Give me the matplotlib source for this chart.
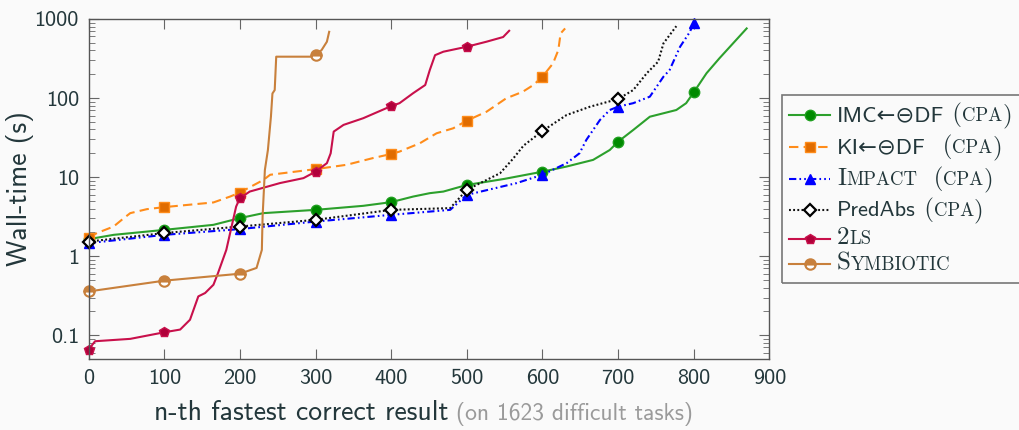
import matplotlib
matplotlib.use("Agg")
import matplotlib.pyplot as plt
from matplotlib.lines import Line2D
from matplotlib.patches import Rectangle
from matplotlib.ticker import LogLocator, NullFormatter

# 字体设置
SANS = ["cmss10", "DejaVu Sans"]
SERIF = ["cmr10", "DejaVu Serif"]
plt.rcParams["font.family"] = SANS
plt.rcParams["axes.unicode_minus"] = False

TEXT = "#23373b"
BG = "#fafafa"
W, H = 1019, 430

# 数据 (n-th fastest result, wall time in s)
imc_x = [0, 33, 100, 165, 200, 231, 300, 363, 400, 429, 451, 469, 500, 550, 600,
         632, 667, 689, 700, 720, 742, 777, 790, 800, 817, 834, 852, 870]
imc_y = [1.64, 1.86, 2.15, 2.49, 3.03, 3.5, 3.85, 4.33, 4.82, 5.67, 6.26, 6.56, 7.95, 9.5, 11.7,
         13.6, 16.5, 22, 28, 39.4, 58, 70.5, 86, 118, 206, 318, 491, 758]

ki_x = [0, 11, 33, 46, 55, 77, 100, 165, 187, 200, 231, 240, 300, 341, 376, 400,
        411, 438, 460, 482, 500, 526, 552, 574, 588, 600, 614, 621, 624, 630]
ki_y = [1.72, 1.96, 2.37, 3.0, 3.5, 3.93, 4.17, 4.78, 5.67, 6.38, 9.2, 10.7, 12.6, 14.3, 17.4, 19.6,
        21, 26.8, 35.8, 41.4, 51.7, 67, 99, 120, 146, 186, 274, 404, 656, 758]

impact_x = [0, 100, 200, 300, 400, 478, 500, 566, 600, 632, 649, 658, 676, 689,
            700, 720, 742, 760, 768, 782, 795, 800]
impact_y = [1.46, 1.86, 2.2, 2.74, 3.33, 3.85, 5.96, 8.4, 10.7, 15, 20, 29.5, 52.7, 70.5,
            77.7, 86, 104, 186, 225, 445, 687, 894]

predabs_x = [0, 100, 200, 300, 400, 478, 500, 544, 561, 575, 600, 632, 663, 700,
             720, 738, 753, 760, 777]
predabs_y = [1.53, 1.96, 2.37, 2.88, 3.85, 4.05, 6.9, 11.2, 17, 25, 38.3, 61, 77.7, 97,
             126, 206, 288, 491, 810]

twols_x = [0, 8.5, 55, 100, 121, 134, 145, 154, 165, 171, 182, 189, 195, 200, 213, 253,
           284, 300, 315, 320, 324, 337, 363, 400, 411, 429, 445, 451, 458, 469, 500,
           526, 548, 556]
twols_y = [0.066, 0.084, 0.090, 0.109, 0.118, 0.157, 0.31, 0.342, 0.435, 0.61, 1.2, 2.37, 4.24,
           5.41, 6.56, 8.4, 9.7, 11.7, 15, 20, 37.6, 45.7, 55.5, 79, 86, 115, 146, 225, 348,
           385, 445, 515, 590, 708]

symb_x = [0, 100, 200, 222, 229, 230, 233, 237, 241, 243, 246, 248, 297, 300, 308, 315, 318]
symb_y = [0.358, 0.49, 0.60, 0.71, 1.2, 3.2, 12.3, 22, 58, 114, 126, 333, 333, 349, 404, 515, 687]

x_ticks = list(range(0, 901, 100))
y_ticks = [0.1, 1, 10, 100, 1000]
y_tick_labels = ["0.1", "1", "10", "100", "1000"]

# 图例文字 (text, fontsize, family) — small caps imitated by smaller capitals
legend_labels = [
    [("IMC\u2190\u2296DF", 16.2, SANS), (" (", 18, SERIF), ("CPA", 13.5, SERIF), (")", 18, SERIF)],
    [("KI\u2190\u2296DF", 16.2, SANS), ("  (", 18, SERIF), ("CPA", 13.5, SERIF), (")", 18, SERIF)],
    [("I", 18, SERIF), ("MPACT", 13.5, SERIF), ("  (", 18, SERIF), ("CPA", 13.5, SERIF), (")", 18, SERIF)],
    [("PredAbs", 16.2, SANS), (" (", 18, SERIF), ("CPA", 13.5, SERIF), (")", 18, SERIF)],
    [("2", 18, SERIF), ("LS", 13.5, SERIF)],
    [("S", 18, SERIF), ("YMBIOTIC", 13.5, SERIF)],
]

series = [
    (imc_x, imc_y, dict(color="#2ca02c", ls="-", marker="o", mfc="#008a00", mec="#1f9f1f")),
    (ki_x, ki_y, dict(color="#ff8c1a", dashes=(4.5, 2.5), marker="s", mfc="#e06c00", mec="#ff8c1a")),
    (impact_x, impact_y, dict(color="#0000ff", dashes=(3.5, 1.5, 0.8, 1.5, 0.8, 1.5), marker="^",
                              mfc="#0000ff", mec="#0000ff")),
    (predabs_x, predabs_y, dict(color="#111111", dashes=(0.9, 1.1), marker="D", mfc="white",
                                mec="black", ms=6, mew=1.6)),
    (twols_x, twols_y, dict(color="#c8104b", ls="-", marker="p", mfc="#b0003a", mec="#c8104b")),
    (symb_x, symb_y, dict(color="#c8803c", ls="-", marker="o", mfc="#c8803c", mec="#c8803c",
                          fillstyle="top", markerfacecoloralt="white", mew=1.5)),
]

fig = plt.figure(figsize=(W / 100, H / 100), dpi=100, facecolor=BG)
ax = fig.add_axes([0.087, 0.165, 0.668, 0.791])
ax.set_facecolor(BG)
renderer = fig.canvas.get_renderer()

for xs, ys, st in series:
    st = dict(st)
    st.setdefault("ms", 7.5)
    marks = [i for i, v in enumerate(xs) if v % 100 == 0]
    ax.plot(xs, ys, lw=1.5, markevery=marks, clip_on=False, **st)

ax.set_yscale("log")
ax.set_xlim(0, 900)
ax.set_ylim(0.05, 1000)
ax.set_xticks(x_ticks)
ax.set_yticks(y_ticks)
ax.set_yticklabels(y_tick_labels)
ax.yaxis.set_minor_locator(LogLocator(base=10, subs=range(2, 10), numticks=20))
ax.yaxis.set_minor_formatter(NullFormatter())
ax.tick_params(which="both", direction="in", top=True, right=True, color="#666666",
               labelcolor=TEXT, labelsize=16)
ax.tick_params(which="major", length=7, pad=7)
ax.tick_params(which="minor", length=4.5)
for sp in ax.spines.values():
    sp.set_color("#555555")
    sp.set_linewidth(1.0)


def put_pieces(x_px, base_px, pieces, color=TEXT):
    # 逐段写文字, 共用同一基线
    x = x_px
    for s, size, fam in pieces:
        t = fig.text(x / W, 1 - base_px / H, s, fontsize=size, family=fam, color=color,
                     ha="left", va="baseline")
        x = t.get_window_extent(renderer).x1
    return x


# 坐标轴标签
ax.set_ylabel("Wall-time (s)", fontsize=20, color=TEXT)
ax.yaxis.set_label_coords(-0.08, 0.5)
xend = put_pieces(154, 420, [("n-th fastest correct result", 20, SANS)])
put_pieces(xend, 420, [(" (on 1623 difficult tasks)", 17, SANS)], color="#9a9a9a")

# 图例 (手动绘制)
handle_y = [115, 147, 179, 210, 239, 264]
text_base = [121, 153, 185, 216, 244, 270]
for (xs, ys, st), hy, tb, lab in zip(series, handle_y, text_base, legend_labels):
    st = dict(st)
    st.setdefault("ms", 7.5)
    yy = 1 - hy / H
    fig.add_artist(Line2D([789 / W, 809.5 / W, 830 / W], [yy, yy, yy], transform=fig.transFigure,
                          lw=1.5, markevery=[1], **st))
    put_pieces(837, tb, lab)

fig.add_artist(Rectangle((782 / W, 1 - 283 / H), 260 / W, 188 / H,
                         transform=fig.transFigure, fill=False, edgecolor="#777777", lw=1.2))

plt.savefig("out.png", dpi=100, facecolor=BG)
